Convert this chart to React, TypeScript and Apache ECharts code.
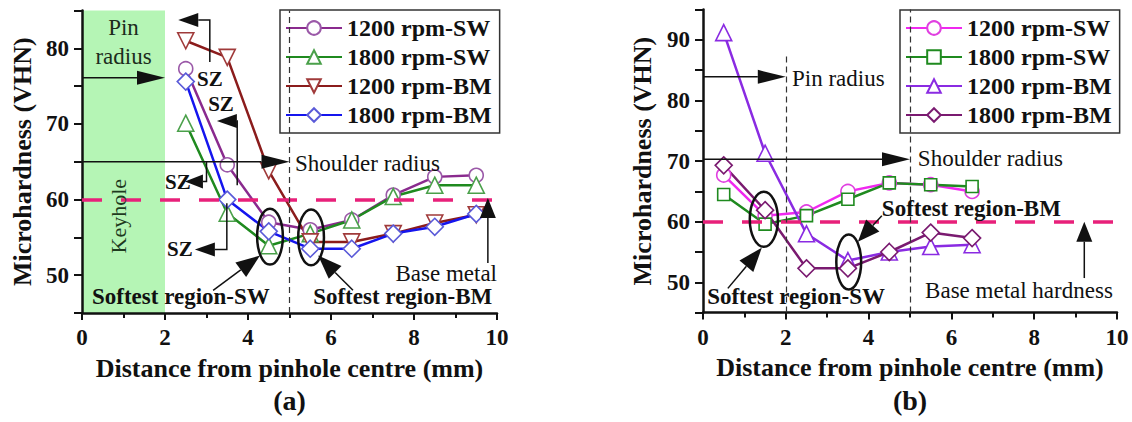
import React, { useEffect, useRef } from "react";
import * as echarts from "echarts";

const FONT = '"Liberation Serif", "Times New Roman", serif';
const INK = "#111111";
const PINK = "#e8207a";

// ---------------- panel (a) data ----------------
const distA = [2.5, 3.5, 4.5, 5.5, 6.5, 7.5, 8.5, 9.5];
const a1200SW = [77.3, 64.6, 57.0, 56.0, 57.3, 60.6, 63.0, 63.2];
const a1800SW = [70.1, 58.2, 53.9, 55.5, 57.3, 60.4, 61.9, 61.9];
const a1200BM = [81.0, 78.8, 63.8, 54.4, 54.4, 55.5, 56.9, 58.0];
const a1800BM = [75.6, 60.0, 55.8, 53.5, 53.5, 55.5, 56.4, 58.1];

// ---------------- panel (b) data ----------------
const distB = [0.5, 1.5, 2.5, 3.5, 4.5, 5.5, 6.5];
const b1200SW = [67.7, 61.0, 61.6, 65.0, 66.4, 66.1, 65.0];
const b1800SW = [64.5, 59.6, 61.0, 63.7, 66.4, 66.1, 65.8];
const b1200BM = [91.2, 71.3, 58.0, 53.6, 55.0, 55.9, 56.2];
const b1800BM = [69.3, 61.9, 52.3, 52.3, 55.0, 58.2, 57.3];

const seriesNames = ["1200 rpm-SW", "1800 rpm-SW", "1200 rpm-BM", "1800 rpm-BM"];
const baseMetalHardness = 60;
const pinRadiusB = 2;
const shoulderRadius = 5;
const keyholeRadius = 2;

type Pt = [number, number];
type SeriesDef = { name: string; y: number[]; color: string; edge: string; symbol: string; size: number; rotate?: number };
type TextDef = { at: Pt; text: string; bold?: boolean; align?: string; rotate?: number; color?: string; size?: number; lh?: number };
type ArrowDef = { pts: Pt[]; head?: number; half?: number };
type EllDef = { c: Pt; rx: number; ry: number };

interface PanelCfg {
  label: string;
  x: number[];
  series: SeriesDef[];
  yMin: number;
  yMax: number;
  grid: { left: number; top: number; width: number; height: number };
  yNameGap: number;
  legendLeft: number;
  keyhole?: number;
  vLines: { x: number; top?: number }[];
  texts: TextDef[];
  arrows: ArrowDef[];
  ellipses: EllDef[];
}

const panelA: PanelCfg = {
  label: "(a)",
  x: distA,
  series: [
    { name: seriesNames[0], y: a1200SW, color: "#8a2a8e", edge: "#9b59a8", symbol: "circle", size: 14 },
    { name: seriesNames[1], y: a1800SW, color: "#1f8a1f", edge: "#4aa04a", symbol: "triangle", size: 16 },
    { name: seriesNames[2], y: a1200BM, color: "#8b1c1c", edge: "#a03a3a", symbol: "triangle", size: 16, rotate: 180 },
    { name: seriesNames[3], y: a1800BM, color: "#1515ee", edge: "#5a5ad8", symbol: "diamond", size: 17 },
  ],
  yMin: 45,
  yMax: 85,
  grid: { left: 82, top: 10.5, width: 415, height: 302.5 },
  yNameGap: 47,
  legendLeft: 280,
  keyhole: keyholeRadius,
  vLines: [{ x: shoulderRadius }],
  texts: [
    { at: [1.0, 80.9], text: "Pin\nradius", color: "#1c2c1c", lh: 29 },
    { at: [0.89, 57.8], text: "Keyhole", rotate: Math.PI / 2, color: "#1e3a1e", size: 22 },
    { at: [5.13, 64.8], text: "Shoulder radius", align: "left" },
    { at: [3.08, 76.0], text: "SZ", bold: true, size: 21 },
    { at: [3.35, 72.7], text: "SZ", bold: true, size: 21 },
    { at: [2.31, 62.3], text: "SZ", bold: true, size: 21 },
    { at: [2.36, 53.4], text: "SZ", bold: true, size: 21 },
    { at: [0.24, 47.2], text: "Softest region-SW", bold: true, align: "left" },
    { at: [5.57, 47.2], text: "Softest region-BM", bold: true, align: "left" },
    { at: [10.0, 50.2], text: "Base metal", align: "right" },
  ],
  arrows: [
    { pts: [[0, 76.1], [2, 76.1]], head: 28 },
    { pts: [[0, 65], [5, 65]], head: 28 },
    { pts: [[3.08, 78.2], [3.08, 83.75], [2.32, 83.75]], head: 20 },
    { pts: [[3.74, 61.9], [3.74, 70.4], [3.25, 70.4]], head: 20 },
    { pts: [[3.0, 65.0], [3.0, 62.4], [2.48, 62.4]], head: 18 },
    { pts: [[3.49, 59.5], [3.49, 53.4], [2.72, 53.4]], head: 20 },
    { pts: [[3.16, 48.0], [4.29, 52.6]], head: 24, half: 9 },
    { pts: [[6.53, 48.0], [5.69, 52.6]], head: 24, half: 9 },
    { pts: [[9.78, 51.6], [9.78, 60.2]], head: 20, half: 8 },
  ],
  ellipses: [
    { c: [4.53, 55.1], rx: 0.31, ry: 3.7 },
    { c: [5.52, 55.0], rx: 0.31, ry: 3.7 },
  ],
};

const panelB: PanelCfg = {
  label: "(b)",
  x: distB,
  series: [
    { name: seriesNames[0], y: b1200SW, color: "#f028f0", edge: "#e040e0", symbol: "circle", size: 14 },
    { name: seriesNames[1], y: b1800SW, color: "#1f8a1f", edge: "#1f8a1f", symbol: "rect", size: 12 },
    { name: seriesNames[2], y: b1200BM, color: "#8a2be2", edge: "#8a2be2", symbol: "triangle", size: 16 },
    { name: seriesNames[3], y: b1800BM, color: "#7a1a70", edge: "#7a1a70", symbol: "diamond", size: 17 },
  ],
  yMin: 45,
  yMax: 95,
  grid: { left: 137, top: 9.6, width: 414, height: 303 },
  yNameGap: 48,
  legendLeft: 334,
  vLines: [{ x: pinRadiusB, top: 87.5 }, { x: shoulderRadius }],
  texts: [
    { at: [2.15, 83.7], text: "Pin radius", align: "left" },
    { at: [5.19, 70.5], text: "Shoulder radius", align: "left" },
    { at: [0.1, 47.6], text: "Softest region-SW", bold: true, align: "left" },
    { at: [4.32, 62.1], text: "Softest region-BM", bold: true, align: "left" },
    { at: [9.9, 48.7], text: "Base metal hardness", align: "right" },
  ],
  arrows: [
    { pts: [[0, 83.9], [2, 83.9]], head: 28 },
    { pts: [[0, 70.3], [5, 70.3]], head: 28 },
    { pts: [[0.6, 49.0], [1.42, 55.7]], head: 24, half: 9 },
    { pts: [[4.32, 61.0], [3.74, 56.7]], head: 22, half: 9 },
    { pts: [[9.21, 50.7], [9.21, 60.0]], head: 20, half: 8 },
  ],
  ellipses: [
    { c: [1.47, 60.4], rx: 0.34, ry: 4.54 },
    { c: [3.52, 53.35], rx: 0.3, ry: 4.54 },
  ],
};

function buildOption(p: PanelCfg) {
  const axisLine = { show: true, onZero: false, lineStyle: { color: INK, width: 2.5 } };
  const tickStyle = { color: INK, width: 2 };
  const labelStyle = { fontFamily: FONT, fontWeight: "bold", fontSize: 23, color: INK };
  const nameStyle = { fontFamily: FONT, fontWeight: "bold", fontSize: 26, color: INK };
  const markData: any[] = [
    { yAxis: baseMetalHardness, lineStyle: { color: PINK, width: 3.5, type: [20, 19] } },
  ];
  p.vLines.forEach((v) => {
    markData.push([
      { coord: [v.x, p.yMin], lineStyle: { color: "#333", width: 1.2, type: [6, 4] } },
      { coord: [v.x, v.top ?? p.yMax] },
    ]);
  });
  return {
    animation: false,
    title: {
      text: p.label,
      left: p.grid.left + p.grid.width / 2,
      top: 386,
      textAlign: "center",
      padding: 0,
      textStyle: { fontFamily: FONT, fontWeight: "bold", fontSize: 28, color: INK },
    },
    grid: { ...p.grid, containLabel: false },
    xAxis: {
      type: "value",
      min: 0,
      max: 10,
      interval: 2,
      name: "Distance from pinhole centre (mm)",
      nameLocation: "middle",
      nameGap: 42,
      nameTextStyle: nameStyle,
      axisLine,
      axisTick: { show: true, length: 7, lineStyle: tickStyle },
      minorTick: { show: true, splitNumber: 2, length: 5, lineStyle: tickStyle },
      splitLine: { show: false },
      minorSplitLine: { show: false },
      axisLabel: { ...labelStyle, margin: 13 },
    },
    yAxis: {
      type: "value",
      min: p.yMin,
      max: p.yMax,
      interval: 5,
      name: "Microhardness (VHN)",
      nameLocation: "middle",
      nameGap: p.yNameGap,
      nameTextStyle: nameStyle,
      axisLine,
      axisTick: { show: true, length: 8, lineStyle: tickStyle },
      splitLine: { show: false },
      axisLabel: {
        ...labelStyle,
        margin: 13,
        formatter: (v: number) => (v % 10 === 0 ? String(v) : ""),
      },
    },
    legend: {
      orient: "vertical",
      left: p.legendLeft,
      top: 10,
      padding: [6, 8, 6, 5],
      itemGap: 5,
      itemWidth: 56,
      itemHeight: 17,
      backgroundColor: "#ffffff",
      borderColor: "#333",
      borderWidth: 1.5,
      borderRadius: 0,
      data: p.series.map((s) => s.name),
      textStyle: { fontFamily: FONT, fontWeight: "bold", fontSize: 24, color: INK, lineHeight: 24, padding: [0, 0, 0, 0] },
    },
    series: p.series.map((s, i) => ({
      type: "line",
      name: s.name,
      data: p.x.map((x, j) => [x, s.y[j]]),
      symbol: s.symbol,
      symbolSize: s.size,
      symbolRotate: s.rotate ?? 0,
      showAllSymbol: true,
      itemStyle: { color: "#ffffff", borderColor: s.edge, borderWidth: 1.6 },
      lineStyle: { color: s.color, width: 2.5 },
      emphasis: { disabled: true },
      markLine:
        i === 0
          ? { silent: true, symbol: ["none", "none"], label: { show: false }, data: markData }
          : undefined,
    })),
  };
}

function buildGraphics(chart: any, p: PanelCfg) {
  const toPx = (pt: Pt): number[] => chart.convertToPixel({ gridIndex: 0 }, pt) as number[];
  const els: any[] = [];
  if (p.keyhole !== undefined) {
    const a = toPx([0, p.yMax]);
    const b = toPx([p.keyhole, p.yMin]);
    els.push({
      type: "rect",
      z: -1,
      shape: { x: a[0] + 1, y: a[1], width: b[0] - a[0] - 1, height: b[1] - a[1] },
      style: { fill: "#b5f5b5" },
    });
  }
  p.ellipses.forEach((e) => {
    const c = toPx(e.c);
    const rx = toPx([e.c[0] + e.rx, e.c[1]])[0] - c[0];
    const ry = c[1] - toPx([e.c[0], e.c[1] + e.ry])[1];
    els.push({
      type: "ellipse",
      z: 50,
      shape: { cx: c[0], cy: c[1], rx, ry },
      style: { fill: "none", stroke: INK, lineWidth: 2.5 },
    });
  });
  p.arrows.forEach((ar) => {
    const P = ar.pts.map(toPx);
    const n = P.length;
    const head = ar.head ?? 24;
    const half = ar.half ?? 7;
    const [tx, ty] = P[n - 1];
    const [qx, qy] = P[n - 2];
    const len = Math.hypot(tx - qx, ty - qy) || 1;
    const ux = (tx - qx) / len;
    const uy = (ty - qy) / len;
    const bx = tx - ux * head;
    const by = ty - uy * head;
    const linePts = P.slice(0, n - 1).concat([[bx, by]]);
    els.push({
      type: "polyline",
      z: 50,
      shape: { points: linePts },
      style: { stroke: INK, lineWidth: 1.5, fill: "none" },
    });
    els.push({
      type: "polygon",
      z: 50,
      shape: {
        points: [
          [tx, ty],
          [bx - uy * half, by + ux * half],
          [bx + uy * half, by - ux * half],
        ],
      },
      style: { fill: INK },
    });
  });
  p.texts.forEach((t) => {
    const c = toPx(t.at);
    const align = t.align ?? "center";
    els.push({
      type: "text",
      z: 60,
      x: c[0],
      y: c[1],
      rotation: t.rotate ?? 0,
      style: {
        text: t.text,
        fill: t.color ?? INK,
        fontFamily: FONT,
        fontSize: t.size ?? 23,
        fontWeight: t.bold ? "bold" : "normal",
        align,
        textAlign: align,
        verticalAlign: "middle",
        textVerticalAlign: "middle",
        lineHeight: t.lh,
      },
    });
  });
  return els;
}

function Panel({ cfg, left }: { cfg: PanelCfg; left: number }) {
  const ref = useRef<HTMLDivElement>(null);
  useEffect(() => {
    if (!ref.current) return;
    const chart = echarts.init(ref.current, undefined, { renderer: "svg" });
    chart.setOption(buildOption(cfg));
    chart.setOption({ graphic: { elements: buildGraphics(chart, cfg) } });
    return () => chart.dispose();
  }, [cfg]);
  return <div ref={ref} style={{ position: "absolute", left, top: 0, width: 566, height: 422 }} />;
}

export default function App() {
  return (
    <div
      style={{
        position: "fixed",
        left: 0,
        top: 0,
        width: 1132,
        height: 422,
        background: "#ffffff",
        overflow: "hidden",
      }}
    >
      <Panel cfg={panelA} left={0} />
      <Panel cfg={panelB} left={566} />
    </div>
  );
}
